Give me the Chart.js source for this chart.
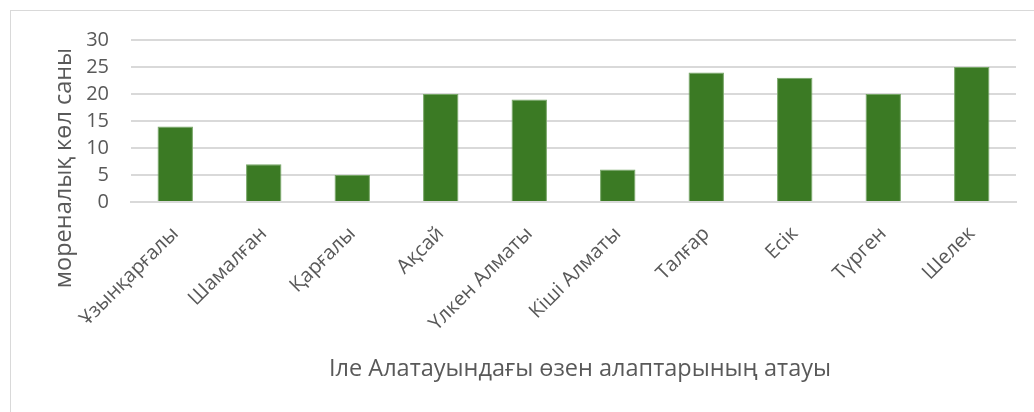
<!DOCTYPE html>
<html>
<head>
<meta charset="utf-8">
<script src="https://cdn.jsdelivr.net/npm/chart.js@4.4.1/dist/chart.umd.min.js"></script>
<style>
  html, body { margin: 0; padding: 0; background: #fff; }
  #wrap { position: relative; width: 1034px; height: 412px; overflow: hidden; }
  #frame { position: absolute; left: 10px; top: 10px; width: 1100px; height: 500px;
           border: 1px solid #d9d9d9; box-sizing: border-box; }
  #chart { position: absolute; left: 0; top: 0; }
</style>
</head>
<body>
<div id="wrap">
  <div id="frame"></div>
  <canvas id="chart" width="1034" height="412"></canvas>
</div>
<script>
// river basins of the Ile Alatau and their moraine lake counts
var basins = ["Ұзынқарғалы", "Шамалған", "Қарғалы", "Ақсай", "Үлкен Алматы",
              "Кіші Алматы", "Талғар", "Есік", "Түрген", "Шелек"];
var lakeCounts = [14, 7, 5, 20, 19, 6, 24, 23, 20, 25];
var yTicks = [0, 5, 10, 15, 20, 25, 30];

var xTitle = "Іле Алатауындағы өзен алаптарының атауы";
var yTitle = "мореналық көл саны";

var textColor = "#595959";
var fontFamily = '"Open Sans", "Noto Sans", sans-serif';

// axis titles drawn by hand so they can sit off the plot centre
var axisTitles = {
  id: "axisTitles",
  afterDraw: function (chart) {
    var c = chart.ctx;
    c.save();
    c.font = "23.5px " + fontFamily;
    c.fillStyle = textColor;
    c.textAlign = "center";
    c.textBaseline = "middle";
    c.fillText(xTitle, 580, 369);
    c.translate(64, 168);
    c.rotate(-Math.PI / 2);
    c.fillText(yTitle, 0, 0);
    c.restore();
  }
};

new Chart(document.getElementById("chart"), {
  type: "bar",
  data: {
    labels: basins,
    datasets: [{
      data: lakeCounts,
      backgroundColor: "#3b7a24",
      borderColor: "#77a667",
      borderWidth: 1,
      categoryPercentage: 1,
      barPercentage: 0.4
    }]
  },
  options: {
    responsive: false,
    animation: false,
    layout: { padding: { top: 40, right: 18, left: 0, bottom: 0 } },
    plugins: { legend: { display: false }, tooltip: { enabled: false } },
    scales: {
      x: {
        grid: { display: false, drawTicks: false },
        border: { color: "#d9d9d9", width: 2 },
        ticks: {
          color: textColor,
          font: { family: fontFamily, size: 20 },
          minRotation: 45,
          maxRotation: 45,
          padding: 20,
          autoSkip: false
        },
        afterFit: function (s) { s.height = 210; }
      },
      y: {
        min: 0,
        max: 30,
        afterBuildTicks: function (s) {
          s.ticks = yTicks.map(function (v) { return { value: v }; });
        },
        grid: { color: "#d9d9d9", lineWidth: 2, drawTicks: false },
        border: { display: false },
        ticks: {
          color: textColor,
          font: { family: fontFamily, size: 20 },
          padding: 22
        },
        afterFit: function (s) { s.width = 131; }
      }
    }
  },
  plugins: [axisTitles]
});
</script>
</body>
</html>
